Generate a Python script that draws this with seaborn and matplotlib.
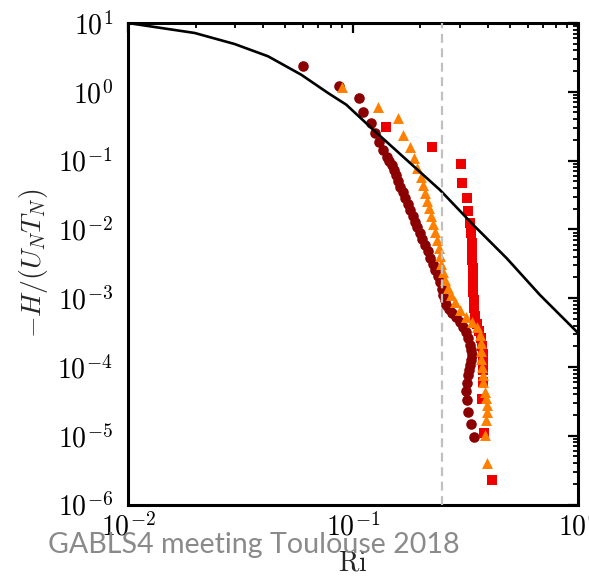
import numpy as np
import pandas as pd
import matplotlib
matplotlib.use("Agg")
import matplotlib.pyplot as plt
import matplotlib.ticker as mticker
import seaborn as sns

# ---- data ----
ri_dark = [0.0599, 0.0869, 0.107, 0.1114, 0.1206, 0.1256, 0.1312, 0.1368, 0.1416, 0.1453,
           0.149, 0.1523, 0.1557, 0.159, 0.1623, 0.1665, 0.1709, 0.1753, 0.1798, 0.1845,
           0.1892, 0.194, 0.1991, 0.2043, 0.2097, 0.2151, 0.2207, 0.2264, 0.2323, 0.2383,
           0.2444, 0.2483, 0.2522, 0.2561, 0.260, 0.268, 0.2764, 0.288, 0.300, 0.3093,
           0.319, 0.3256, 0.3324, 0.335, 0.3376, 0.3358, 0.3341, 0.33, 0.3256, 0.3223,
           0.319, 0.3214, 0.3266, 0.3348, 0.3474]
h_dark = [2.37, 1.23, 0.821, 0.504, 0.348, 0.249, 0.188, 0.1426, 0.114, 0.0992,
          0.0863, 0.0730, 0.0618, 0.0508, 0.0418, 0.0346, 0.0286, 0.0234, 0.0191, 0.0156,
          0.0128, 0.01065, 0.00887, 0.00725, 0.00593, 0.00477, 0.00384, 0.00314, 0.00257, 0.00210,
          0.00172, 0.00138, 0.00111, 0.00094, 0.000796, 0.000697, 0.000610, 0.000525, 0.000451, 0.000382,
          0.000323, 0.00026, 0.000209, 0.000176, 0.000149, 0.000126, 0.000107, 9.05e-5, 7.66e-5, 5.85e-5,
          4.48e-5, 3.31e-5, 2.24e-5, 1.47e-5, 9.7e-6]

ri_orange = [0.0899, 0.130, 0.1595, 0.168, 0.1798, 0.1873, 0.1937, 0.2012, 0.2054, 0.2097,
             0.214, 0.2173, 0.2218, 0.2264, 0.2311, 0.2359, 0.2408, 0.2444, 0.2482, 0.2522,
             0.2573, 0.2653, 0.2736, 0.285, 0.300, 0.319, 0.3393, 0.357, 0.3683, 0.3702,
             0.371, 0.3728, 0.3747, 0.3797, 0.3817, 0.3876, 0.3916, 0.3945, 0.3945, 0.3904,
             0.3876, 0.3945]
h_orange = [1.186, 0.607, 0.412, 0.2355, 0.156, 0.108, 0.0773, 0.0583, 0.0442, 0.0338,
            0.0259, 0.0205, 0.0157, 0.01198, 0.00917, 0.00701, 0.00537, 0.0041, 0.00314, 0.0024,
            0.00184, 0.00141, 0.00111, 0.00088, 0.000673, 0.000533, 0.000451, 0.000381, 0.000292, 0.000223,
            0.000171, 0.000131, 1.0e-4, 7.66e-5, 6.05e-5, 4.38e-5, 3.51e-5, 2.81e-5, 2.24e-5, 1.70e-5,
            1.03e-5, 3.98e-6]

ri_red = [0.1402, 0.226, 0.303, 0.3073, 0.3214, 0.3266, 0.3324, 0.3358, 0.3382, 0.3393,
          0.3404, 0.3411, 0.3418, 0.3428, 0.3439, 0.3446, 0.3464, 0.3499, 0.357, 0.3645,
          0.372, 0.3759, 0.3797, 0.3817, 0.3817, 0.3809, 0.3747, 0.3848, 0.4152]
h_red = [0.308, 0.159, 0.0883, 0.0477, 0.0283, 0.0185, 0.0125, 0.00895, 0.00628, 0.0047,
         0.00359, 0.00275, 0.0021, 0.00161, 0.00123, 0.000942, 0.000721, 0.000551, 0.000422, 0.000333,
         0.000264, 0.000202, 0.000155, 0.000118, 9.04e-5, 6.11e-5, 3.40e-5, 1.09e-5, 2.28e-6]

ri_curve = [0.01, 0.01406, 0.0198, 0.0298, 0.042, 0.059, 0.0776, 0.0936, 0.1234, 0.1738,
            0.2444, 0.3439, 0.4842, 0.681, 0.958, 1.0]
h_curve = [10.0, 8.46, 7.16, 4.95, 3.28, 1.77, 0.961, 0.649, 0.28, 0.102,
           0.0374, 0.0116, 0.0038, 0.00111, 0.000365, 0.000317]

ri_crit = 0.25
x_ticks = [1e-2, 1e-1, 1e0]
y_ticks = [1e-6, 1e-5, 1e-4, 1e-3, 1e-2, 1e-1, 1e0, 1e1]

# ---- style ----
sns.set_style("white")
plt.rcParams["mathtext.fontset"] = "cm"
plt.rcParams["font.family"] = ["DejaVu Serif"]

fig = plt.figure(figsize=(5.89, 5.76), dpi=100)
ax = fig.add_axes([128 / 589, 1 - 504.5 / 576, 449.5 / 589, 481.5 / 576])

df_dark = pd.DataFrame({"Ri": ri_dark, "H": h_dark})
df_orange = pd.DataFrame({"Ri": ri_orange, "H": h_orange})
df_red = pd.DataFrame({"Ri": ri_red, "H": h_red})
df_curve = pd.DataFrame({"Ri": ri_curve, "H": h_curve})

sns.scatterplot(data=df_dark, x="Ri", y="H", ax=ax, color="#8b0000", marker="o",
                s=58, linewidth=0, zorder=3)
sns.scatterplot(data=df_red, x="Ri", y="H", ax=ax, color="#ee0000", marker="s",
                s=46, linewidth=0, zorder=4)
sns.scatterplot(data=df_orange, x="Ri", y="H", ax=ax, color="#ff8000", marker="^",
                s=62, linewidth=0, zorder=5)
sns.lineplot(data=df_curve, x="Ri", y="H", ax=ax, color="black", linewidth=1.9,
             sort=False, estimator=None, zorder=6)
ax.axvline(ri_crit, color="#c0c0c0", linestyle=(0, (4, 2.5)), linewidth=1.6, zorder=7)

ax.set_xscale("log")
ax.set_yscale("log")
ax.set_xlim(1e-2, 1e0)
ax.set_ylim(1e-6, 1e1)

fmt = mticker.FuncFormatter(lambda v, p: r"$10^{%d}$" % int(round(np.log10(v))))
ax.xaxis.set_major_locator(mticker.FixedLocator(x_ticks))
ax.yaxis.set_major_locator(mticker.FixedLocator(y_ticks))
ax.xaxis.set_minor_locator(mticker.LogLocator(base=10, subs=np.arange(2, 10), numticks=20))
ax.yaxis.set_minor_locator(mticker.LogLocator(base=10, subs=np.arange(2, 10), numticks=20))
ax.xaxis.set_minor_formatter(mticker.NullFormatter())
ax.yaxis.set_minor_formatter(mticker.NullFormatter())
ax.xaxis.set_major_formatter(fmt)
ax.yaxis.set_major_formatter(fmt)

ax.tick_params(which="both", direction="in", top=True, right=True, labelsize=20, colors="black")
ax.tick_params(which="major", length=7, width=1.6)
ax.tick_params(axis="x", which="major", pad=6)
ax.tick_params(axis="y", which="major", pad=11)
ax.tick_params(which="minor", length=3.6, width=1.3)
for sp in ax.spines.values():
    sp.set_linewidth(2.2)
    sp.set_color("black")

ax.set_xlabel(r"$\mathrm{Ri}$", fontsize=20, labelpad=6)
ax.set_ylabel(r"$-H/(U_NT_N)$", fontsize=20, labelpad=5)

fig.text(48 / 589, 1 - 553 / 576, "GABLS4 meeting Toulouse 2018", color="#8a8a8a",
         fontsize=20.6, family=["Lato", "DejaVu Sans"], va="baseline", ha="left", zorder=10)

fig.savefig("out.png", dpi=100, facecolor="white")
